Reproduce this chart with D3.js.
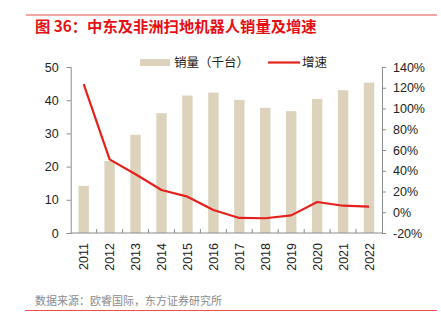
<!DOCTYPE html>
<html>
<head>
<meta charset="utf-8">
<script src="https://cdn.jsdelivr.net/npm/d3@7/dist/d3.min.js"></script>
<style>
  body { margin: 0; background: #fff; }
  text { font-family: "Liberation Sans", Arial, "Noto Sans CJK SC", sans-serif; }
  .cjk { font-family: "Noto Sans CJK SC", sans-serif; }
</style>
</head>
<body>
<div id="content"></div>
<script>
// data
const years = ["2011", "2012", "2013", "2014", "2015", "2016", "2017", "2018", "2019", "2020", "2021", "2022"];
const sales = [14.2, 21.7, 29.6, 36.1, 41.4, 42.3, 40.1, 37.7, 36.7, 40.4, 43.0, 45.3];
const growth = [123.5, 51, 36.6, 21.4, 15, 2.2, -5.5, -5.8, -3, 9.9, 6.3, 5.4];
const leftTicks = [0, 10, 20, 30, 40, 50];
const rightTicks = [-20, 0, 20, 40, 60, 80, 100, 120, 140];

const W = 441, H = 331;
const barColor = "#ddd3bd";
const lineColor = "#e5211d";
const axisColor = "#8c8c8c";

const svg = d3.select("#content")
    .append("svg")
    .attr("width", W)
    .attr("height", H);

// top rule and title
svg.append("line")
    .attr("x1", 26).attr("x2", 437).attr("y1", 15).attr("y2", 15)
    .attr("stroke", "#e8504c").attr("stroke-width", 1);

svg.append("text")
    .attr("class", "cjk")
    .attr("x", 35).attr("y", 32)
    .style("font-size", "15.3px")
    .style("font-weight", "bold")
    .style("fill", "#e60f14")
    .text("图 36：中东及非洲扫地机器人销量及增速");

// plot area
const x0 = 70.7, x1 = 382, yTop = 67, yBot = 233;

let xc = d3.scaleBand().domain(years).range([x0, x1]);

let yL = d3.scaleLinear().domain([0, 50]).range([yBot, yTop]);
let yR = d3.scaleLinear().domain([-20, 140]).range([yBot, yTop]);

// bars
svg.append("g")
    .selectAll("rect")
    .data(years)
    .join("rect")
    .attr("x", d => xc(d) + xc.bandwidth() / 2 - 5.2)
    .attr("width", 10.4)
    .attr("y", (d, i) => yL(sales[i]))
    .attr("height", (d, i) => yBot - yL(sales[i]))
    .attr("fill", barColor);

// left axis
let leftAxis = svg.append("g")
    .attr("transform", "translate(" + x0 + ",0)")
    .call(d3.axisLeft(yL).tickValues(leftTicks).tickSize(4).tickPadding(8));

// right axis
let rightAxis = svg.append("g")
    .attr("transform", "translate(" + x1 + ",0)")
    .call(d3.axisRight(yR).tickValues(rightTicks).tickSize(4).tickPadding(7)
        .tickFormat(d => d + "%"));

// bottom axis: ticks between categories, pointing up
let bottom = svg.append("g");
bottom.append("line")
    .attr("x1", x0).attr("x2", x1).attr("y1", yBot).attr("y2", yBot)
    .attr("stroke", axisColor);
bottom.selectAll("line.tk")
    .data(years.slice(1))
    .join("line")
    .attr("class", "tk")
    .attr("x1", d => xc(d)).attr("x2", d => xc(d))
    .attr("y1", yBot).attr("y2", yBot - 4)
    .attr("stroke", axisColor);
bottom.selectAll("text")
    .data(years)
    .join("text")
    .attr("transform", d => "translate(" + (xc(d) + xc.bandwidth() / 2 + 4.5) + "," + (yBot + 10) + ") rotate(-90)")
    .attr("text-anchor", "end")
    .style("font-size", "12.5px")
    .style("fill", "#222")
    .text(d => d);

[leftAxis, rightAxis].forEach(function(a) {
    a.select(".domain").attr("stroke", axisColor);
    a.selectAll(".tick line").attr("stroke", axisColor);
    a.selectAll(".tick text")
        .style("font-size", "12.5px")
        .style("fill", "#222")
        .style("font-family", "'Liberation Sans', Arial, sans-serif");
});

// growth line
const line = d3.line()
    .x((d, i) => xc(years[i]) + xc.bandwidth() / 2)
    .y(d => yR(d));

svg.append("path")
    .datum(growth)
    .attr("fill", "none")
    .attr("stroke", lineColor)
    .attr("stroke-width", 2.2)
    .attr("stroke-linejoin", "round")
    .attr("d", line);

// legend
let legend = svg.append("g");
legend.append("rect")
    .attr("x", 140).attr("y", 59).attr("width", 30).attr("height", 7)
    .attr("fill", barColor);
legend.append("text")
    .attr("class", "cjk")
    .attr("x", 174).attr("y", 67)
    .style("font-size", "12.5px")
    .style("fill", "#222")
    .text("销量（千台）");
legend.append("line")
    .attr("x1", 268).attr("x2", 300).attr("y1", 62.5).attr("y2", 62.5)
    .attr("stroke", lineColor).attr("stroke-width", 2.2);
legend.append("text")
    .attr("class", "cjk")
    .attr("x", 302).attr("y", 67)
    .style("font-size", "12.5px")
    .style("fill", "#222")
    .text("增速");

// source and bottom rule
svg.append("text")
    .attr("class", "cjk")
    .attr("x", 35).attr("y", 305)
    .style("font-size", "11px")
    .style("fill", "#8a8a8a")
    .text("数据来源：欧睿国际，东方证券研究所");

svg.append("line")
    .attr("x1", 25).attr("x2", 437).attr("y1", 310.5).attr("y2", 310.5)
    .attr("stroke", "#e8504c").attr("stroke-width", 1);
</script>
</body>
</html>
